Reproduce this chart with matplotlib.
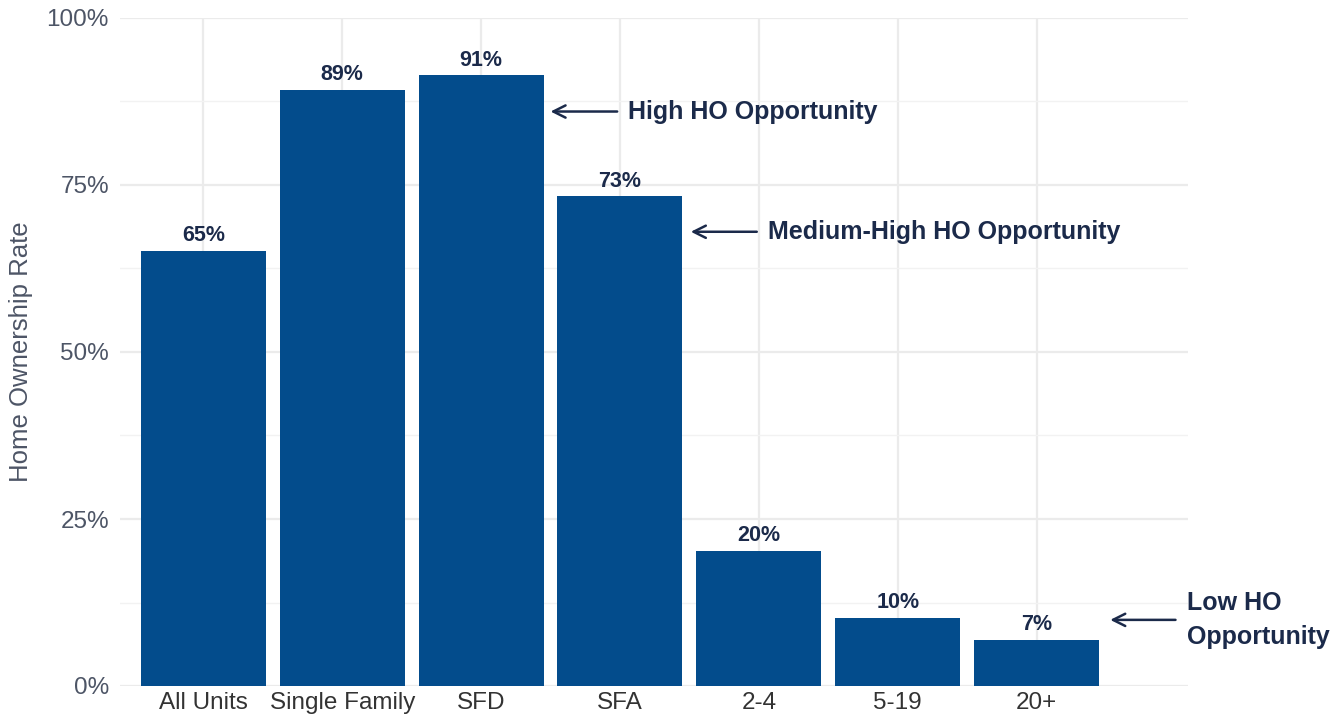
import matplotlib
matplotlib.use('Agg')
import matplotlib.pyplot as plt

categories = ['All Units', 'Single Family', 'SFD', 'SFA', '2-4', '5-19', '20+']
rates = [65.1, 89.2, 91.4, 73.3, 20.2, 10.2, 6.9]
bar_labels = ['65%', '89%', '91%', '73%', '20%', '10%', '7%']
yticks = [0, 25, 50, 75, 100]
ytick_labels = ['0%', '25%', '50%', '75%', '100%']

# annotations: (text, y of arrow, arrow tip x, text x)
notes = [('High HO Opportunity', 86.0, 2.48, 3.06),
         ('Medium-High HO Opportunity', 68.0, 3.49, 4.065),
         ('Low HO\nOpportunity', 9.9, 6.51, 7.08)]

plt.rcParams['font.family'] = ['Liberation Sans', 'DejaVu Sans']

bar_col = '#034C8C'
txt_col = '#1B2A4A'
grid_col = '#EBEBEB'

fig = plt.figure(figsize=(13.42, 7.23), dpi=100)
ax = fig.add_axes([120 / 1342, 1 - 686 / 723, (1188 - 120) / 1342, (686 - 18) / 723])

x = range(len(categories))
ax.bar(x, rates, width=0.9, color=bar_col, zorder=2)
for xi, v, l in zip(x, rates, bar_labels):
    ax.text(xi, v + 0.7, l, ha='center', va='bottom', fontsize=15.5,
            fontweight='bold', color=txt_col, zorder=3)

for t, yv, tip, tx in notes:
    ax.annotate('', xy=(tip, yv), xytext=(tx - 0.06, yv),
                arrowprops=dict(arrowstyle='->', color=txt_col, lw=1.8,
                                mutation_scale=22),
                annotation_clip=False, zorder=4)
    ax.text(tx, yv, t, ha='left', va='center', fontsize=18,
            fontweight='bold', color=txt_col, clip_on=False,
            linespacing=1.55)

ax.set_xlim(-0.6, 7.09)
ax.set_ylim(0, 100)
ax.set_xticks(list(x))
ax.set_xticklabels(categories, fontsize=17.5, color='#333333')
ax.set_yticks(yticks)
ax.set_yticklabels(ytick_labels, fontsize=17.5, color='#4D5566')
ax.set_yticks([12.5, 37.5, 62.5, 87.5], minor=True)
ax.tick_params(axis='both', which='both', length=0)
ax.tick_params(axis='x', pad=4)
ax.tick_params(axis='y', pad=8)
ax.grid(True, which='major', color=grid_col, lw=1.6, zorder=0)
ax.grid(True, which='minor', axis='y', color='#F2F2F2', lw=1.0, zorder=0)
ax.set_axisbelow(True)
for s in ax.spines.values():
    s.set_visible(False)
ax.set_ylabel('Home Ownership Rate', fontsize=18.5, color='#4D5566', labelpad=10)

fig.savefig('out.png', dpi=100)
